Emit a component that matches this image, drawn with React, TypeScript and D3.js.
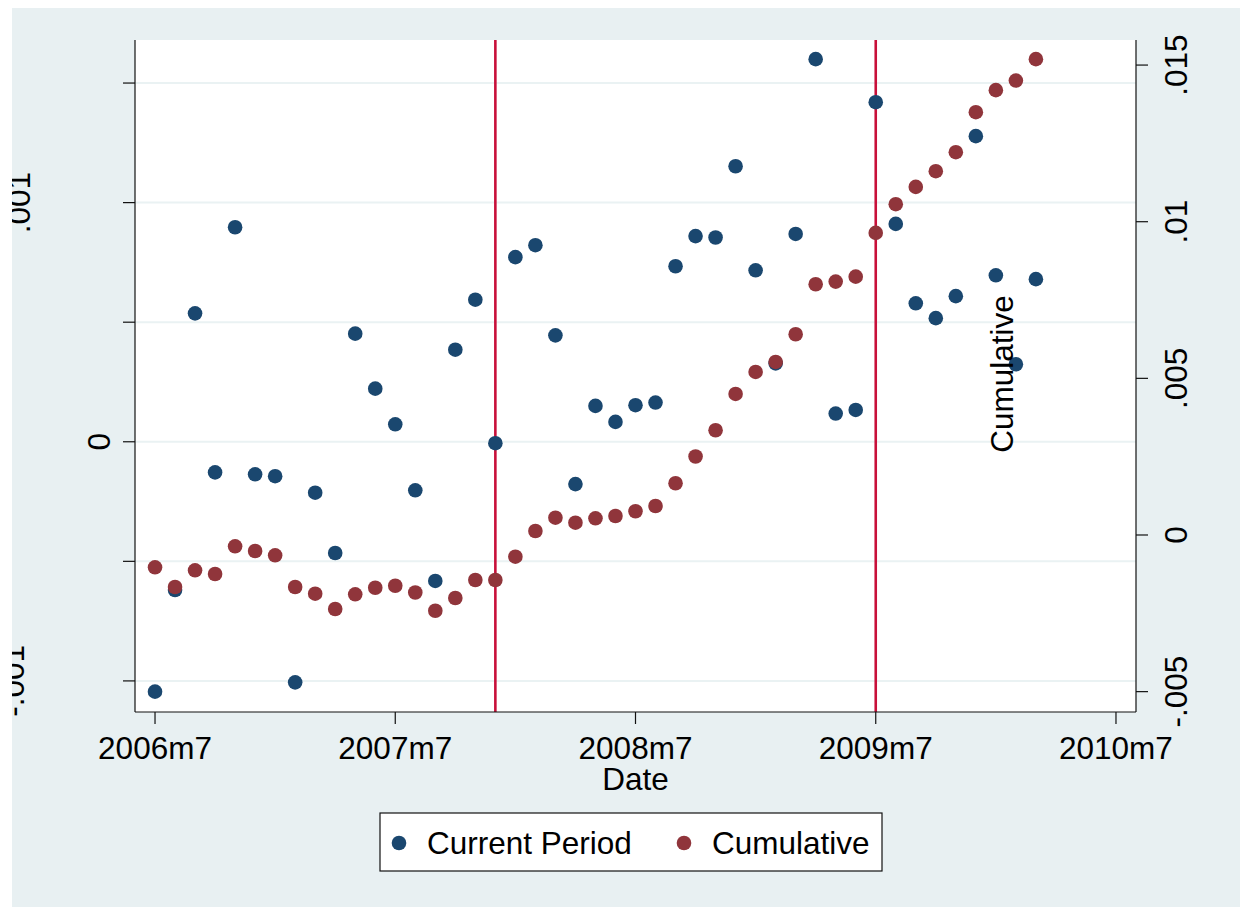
import React, { useEffect, useRef } from 'react'
import * as d3 from 'd3'

// monthly periods, 2006m7 .. 2010m3
const periods = [
  '2006m7', '2006m8', '2006m9', '2006m10', '2006m11', '2006m12',
  '2007m1', '2007m2', '2007m3', '2007m4', '2007m5', '2007m6',
  '2007m7', '2007m8', '2007m9', '2007m10', '2007m11', '2007m12',
  '2008m1', '2008m2', '2008m3', '2008m4', '2008m5', '2008m6',
  '2008m7', '2008m8', '2008m9', '2008m10', '2008m11', '2008m12',
  '2009m1', '2009m2', '2009m3', '2009m4', '2009m5', '2009m6',
  '2009m7', '2009m8', '2009m9', '2009m10', '2009m11', '2009m12',
  '2010m1', '2010m2', '2010m3'
]

// left axis
const currentPeriod = [
  -0.001045, -0.00062, 0.000537, -0.000128, 0.000897, -0.000136,
  -0.000144, -0.001006, -0.000213, -0.000465, 0.000452, 0.000222,
  0.000073, -0.000203, -0.000582, 0.000385, 0.000594, -0.000006,
  0.000772, 0.000822, 0.000445, -0.000177, 0.00015, 0.000083,
  0.000153, 0.000164, 0.000734, 0.00086, 0.000854, 0.001152,
  0.000717, 0.000328, 0.000869, 0.0016, 0.000118, 0.000133,
  0.00142, 0.000911, 0.000579, 0.000517, 0.000609, 0.001278,
  0.000696, 0.000324, 0.00068
]

// right axis
const cumulative = [
  -0.001031, -0.00166, -0.001127, -0.001245, -0.000361, -0.000511,
  -0.000648, -0.00166, -0.001874, -0.002363, -0.001893, -0.001683,
  -0.001619, -0.001836, -0.002417, -0.002011, -0.001437, -0.001437,
  -0.000693, 0.000128, 0.000552, 0.000393, 0.000533, 0.000607,
  0.000757, 0.000926, 0.001651, 0.002506, 0.003343, 0.004502,
  0.005204, 0.005524, 0.006408, 0.008004, 0.008088, 0.008247,
  0.009642, 0.010559, 0.011111, 0.011612, 0.012219, 0.013496,
  0.014199, 0.014505, 0.015188
]

const xTickLabels = ['2006m7', '2007m7', '2008m7', '2009m7', '2010m7']
const eventLines = ['2007m12', '2009m7']
const leftTicks = [-0.001, -0.0005, 0, 0.0005, 0.001, 0.0015]
const leftTickLabels = ['-.001', '', '0', '', '.001', '']
const rightTicks = [-0.005, 0, 0.005, 0.01, 0.015]
const rightTickLabels = ['-.005', '0', '.005', '.01', '.015']
const seriesNames = ['Current Period', 'Cumulative']

const BLUE = '#1a476f'
const RED = '#90353b'
const BG = '#e8f0f2'
const FONT = 'Liberation Sans, Arial, Helvetica, sans-serif'
const FS = 31.5

const monthIndex = (p: string) => {
  const [y, m] = p.split('m').map(Number)
  return (y - 2006) * 12 + (m - 7)
}

export default function App () {
  const ref = useRef<SVGSVGElement>(null)

  useEffect(() => {
    const svg = d3.select(ref.current)
    svg.selectAll('*').remove()

    const plot = { left: 135, right: 1136, top: 40, bottom: 712 }

    const x = d3.scaleLinear().domain([-1, 49]).range([plot.left, plot.right])
    const yL = d3.scaleLinear().domain([-0.00113, 0.00168]).range([plot.bottom, plot.top])
    const yR = d3.scaleLinear().domain([-0.00565, 0.0158]).range([plot.bottom, plot.top])

    svg.append('defs').append('clipPath').attr('id', 'graphclip')
      .append('rect').attr('x', 12).attr('y', 8).attr('width', 1228).attr('height', 899)

    const g = svg.append('g').attr('clip-path', 'url(#graphclip)')

    // graph background and plot region
    g.append('rect').attr('x', 12).attr('y', 8).attr('width', 1228).attr('height', 899).attr('fill', BG)
    g.append('rect')
      .attr('x', plot.left).attr('y', plot.top)
      .attr('width', plot.right - plot.left).attr('height', plot.bottom - plot.top)
      .attr('fill', '#fff')

    // gridlines
    g.selectAll('.grid').data(leftTicks).enter().append('line')
      .attr('x1', plot.left).attr('x2', plot.right)
      .attr('y1', d => yL(d)).attr('y2', d => yL(d))
      .attr('stroke', '#eaf2f3').attr('stroke-width', 2)

    // event lines
    g.selectAll('.event').data(eventLines).enter().append('line')
      .attr('x1', d => x(monthIndex(d))).attr('x2', d => x(monthIndex(d)))
      .attr('y1', plot.top).attr('y2', plot.bottom)
      .attr('stroke', '#c8103a').attr('stroke-width', 2.6)

    // points
    g.selectAll('.cur').data(currentPeriod).enter().append('circle')
      .attr('cx', (d, i) => x(monthIndex(periods[i])))
      .attr('cy', d => yL(d))
      .attr('r', 7.3).attr('fill', BLUE)
    g.selectAll('.cum').data(cumulative).enter().append('circle')
      .attr('cx', (d, i) => x(monthIndex(periods[i])))
      .attr('cy', d => yR(d))
      .attr('r', 7.3).attr('fill', RED)

    // axis lines
    const axisColor = '#111'
    g.append('line').attr('x1', plot.left).attr('x2', plot.left).attr('y1', plot.top).attr('y2', plot.bottom)
      .attr('stroke', axisColor).attr('stroke-width', 1.2)
    g.append('line').attr('x1', plot.right).attr('x2', plot.right).attr('y1', plot.top).attr('y2', plot.bottom)
      .attr('stroke', axisColor).attr('stroke-width', 1.2)
    g.append('line').attr('x1', plot.left).attr('x2', plot.right).attr('y1', plot.bottom).attr('y2', plot.bottom)
      .attr('stroke', axisColor).attr('stroke-width', 1.2)

    // left ticks and labels
    g.selectAll('.lt').data(leftTicks).enter().append('line')
      .attr('x1', plot.left - 12).attr('x2', plot.left)
      .attr('y1', d => yL(d)).attr('y2', d => yL(d))
      .attr('stroke', axisColor).attr('stroke-width', 1.2)
    // Stata places the rotated left labels at uneven offsets
    const leftLabelX: Record<string, number> = { '-.001': 23.5, '0': 110, '.001': 29.5 }
    leftTicks.forEach((t, i) => {
      const lab = leftTickLabels[i]
      if (!lab) return
      const lx = leftLabelX[lab]
      g.append('text')
        .attr('transform', `translate(${lx},${yL(t)}) rotate(-90)`)
        .attr('text-anchor', 'middle')
        .attr('font-family', FONT).attr('font-size', FS).attr('fill', '#000')
        .text(lab)
    })

    // right ticks and labels
    g.selectAll('.rt').data(rightTicks).enter().append('line')
      .attr('x1', plot.right).attr('x2', plot.right + 12)
      .attr('y1', d => yR(d)).attr('y2', d => yR(d))
      .attr('stroke', axisColor).attr('stroke-width', 1.2)
    rightTicks.forEach((t, i) => {
      g.append('text')
        .attr('transform', `translate(1187,${yR(t)}) rotate(-90)`)
        .attr('text-anchor', 'middle')
        .attr('font-family', FONT).attr('font-size', FS).attr('fill', '#000')
        .text(rightTickLabels[i])
    })

    // x ticks and labels
    xTickLabels.forEach(lab => {
      const xx = x(monthIndex(lab))
      g.append('line').attr('x1', xx).attr('x2', xx).attr('y1', plot.bottom).attr('y2', plot.bottom + 12)
        .attr('stroke', axisColor).attr('stroke-width', 1.2)
      g.append('text').attr('x', xx).attr('y', 759)
        .attr('text-anchor', 'middle')
        .attr('font-family', FONT).attr('font-size', FS).attr('fill', '#000')
        .text(lab)
    })

    // titles
    g.append('text').attr('x', (plot.left + plot.right) / 2).attr('y', 790)
      .attr('text-anchor', 'middle')
      .attr('font-family', FONT).attr('font-size', FS).attr('fill', '#000')
      .text('Date')
    g.append('text')
      .attr('transform', 'translate(1013,374) rotate(-90)')
      .attr('text-anchor', 'middle')
      .attr('font-family', FONT).attr('font-size', FS).attr('fill', '#000')
      .text('Cumulative')

    // legend
    g.append('rect').attr('x', 380).attr('y', 813).attr('width', 502).attr('height', 58)
      .attr('fill', '#fff').attr('stroke', '#111').attr('stroke-width', 1.2)
    const legendX = [399, 684]
    const colors = [BLUE, RED]
    seriesNames.forEach((name, i) => {
      g.append('circle').attr('cx', legendX[i]).attr('cy', 843).attr('r', 7.3).attr('fill', colors[i])
      g.append('text').attr('x', legendX[i] + 28).attr('y', 854)
        .attr('font-family', FONT).attr('font-size', FS).attr('fill', '#000')
        .text(name)
    })
  }, [])

  return (
    <svg ref={ref} width={1249} height={907}
      style={{ position: 'absolute', left: 0, top: 0, background: '#fff' }} />
  )
}
